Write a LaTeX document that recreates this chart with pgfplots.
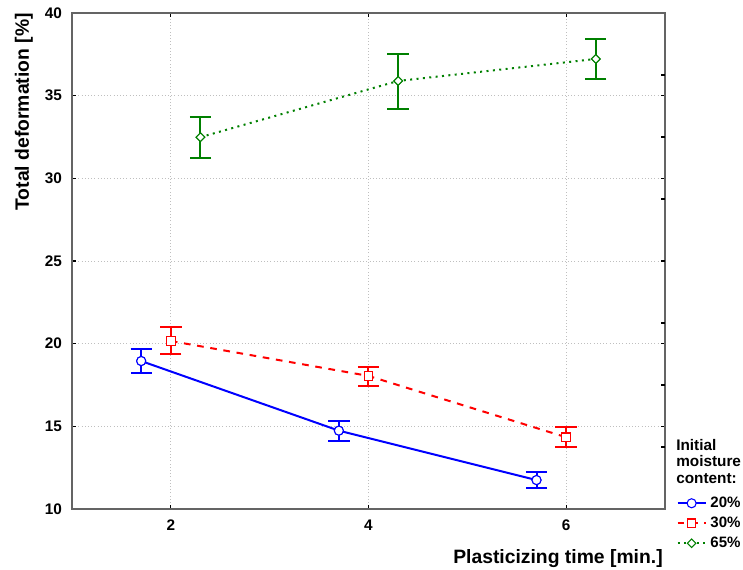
\documentclass[border=0pt]{standalone}
\usepackage{pgfplots}
\pgfplotsset{compat=1.18}
\usepackage{fontspec}
\setmainfont{Liberation Sans}
\definecolor{myblue}{RGB}{0,0,255}
\definecolor{myred}{RGB}{255,0,0}
\definecolor{mygreen}{RGB}{0,128,0}
\definecolor{frame}{RGB}{100,100,100}
\pgfplotstableread{
x y ep em
1.7 18.95 0.71 0.74
3.7 14.74 0.60 0.63
5.7 11.75 0.47 0.50
}\tblA
\pgfplotstableread{
x y ep em
2 20.16 0.87 0.80
4 18.05 0.52 0.59
6 14.34 0.60 0.57
}\tblB
\pgfplotstableread{
x y ep em
2.3 32.49 1.24 1.27
4.3 35.89 1.65 1.71
6.3 37.22 1.21 1.23
}\tblC
\begin{document}
\begin{tikzpicture}
\path[use as bounding box] (-54pt,-45pt) rectangle (503.25pt,381.75pt);
\begin{axis}[
  at={(0,0)}, anchor=south west,
  scale only axis,
  width=444.75pt, height=372pt,
  xmin=1, xmax=7, ymin=10, ymax=40,
  xtick={2,4,6}, ytick={10,15,20,25,30,35,40},
  tick align=inside,
  tick style={black, line width=0.8pt},
  major tick length=3pt,
  axis line style={frame, line width=1.5pt},
  grid=major,
  major grid style={gray!50, dotted, line width=0.6pt},
  /pgf/number format/assume math mode=true,
  ticklabel style={font=\bfseries\fontsize{11.5}{13}\selectfont},
  yticklabel style={xshift=-4pt},
  xticklabel style={yshift=-4.5pt},
  xlabel={\textbf{Plasticizing time [min.]}},
  ylabel={\textbf{Total deformation [\%]}},
  label style={font=\bfseries\fontsize{14.5}{16}\selectfont, inner sep=0pt},
  xlabel style={at={(axis description cs:1,0)}, anchor=base east, yshift=-41pt, xshift=-1.5pt},
  ylabel style={at={(axis description cs:-0.081,1)}, anchor=east},
  legend style={at={(axis description cs:1,0)}, anchor=north west, xshift=8.5pt, yshift=9.5pt,
    draw=none, fill=none,
    font=\bfseries\fontsize{11.3}{13}\selectfont, row sep=5pt, inner sep=0pt,
    nodes={text height=8pt, text depth=2pt, inner sep=0pt},
    /tikz/every odd column/.append style={column sep=2.8pt}},
  legend cell align=left,
  legend image code/.code={\draw[mark repeat=2,mark phase=2,#1] plot coordinates {(0cm,0cm) (0.37cm,0cm) (0.74cm,0cm)};},
  clip=false,
]
\addplot[myblue, line width=1.5pt, mark=*, mark size=3.4pt, mark options={solid, fill=white, draw=myblue, line width=0.8pt},
  error bars/.cd, y dir=both, y explicit,
  error bar style={line width=1.5pt, solid},
  error mark options={rotate=90, mark size=8pt, line width=1.5pt}]
  table[x=x, y=y, y error plus=ep, y error minus=em] {\tblA};
\addlegendentry{20\%}
\addplot[myred, line width=1.5pt, dash pattern=on 5pt off 5pt, mark=square*, mark size=3.2pt, mark options={solid, fill=white, draw=myred, line width=0.8pt},
  error bars/.cd, y dir=both, y explicit,
  error bar style={line width=1.5pt, solid},
  error mark options={rotate=90, mark size=8pt, line width=1.5pt, solid}]
  table[x=x, y=y, y error plus=ep, y error minus=em] {\tblB};
\addlegendentry{30\%}
\addplot[mygreen, line width=1.5pt, dash pattern=on 1.5pt off 3.3pt, mark=square*, mark size=2.3pt, mark options={solid, rotate=45, fill=white, draw=mygreen, line width=0.8pt},
  error bars/.cd, y dir=both, y explicit,
  error bar style={line width=1.5pt, solid},
  error mark options={rotate=90, mark size=8pt, line width=1.5pt, solid}]
  table[x=x, y=y, y error plus=ep, y error minus=em] {\tblC};
\addlegendentry{65\%}
\addplot[forget plot, only marks, myblue, mark=*, mark size=3.4pt, mark options={solid, fill=white, draw=myblue, line width=0.8pt}]
  table[x=x, y=y] {\tblA};
\addplot[forget plot, only marks, myred, mark=square*, mark size=3.2pt, mark options={solid, fill=white, draw=myred, line width=0.8pt}]
  table[x=x, y=y] {\tblB};
\addplot[forget plot, only marks, mygreen, mark=square*, mark size=2.3pt, mark options={solid, rotate=45, fill=white, draw=mygreen, line width=0.8pt}]
  table[x=x, y=y] {\tblC};
\node[anchor=base west, font=\bfseries\fontsize{11.5}{13}\selectfont, inner sep=0pt]
  at ([xshift=8.25pt,yshift=43.7pt]axis description cs:1,0) {Initial};
\node[anchor=base west, font=\bfseries\fontsize{11.5}{13}\selectfont, inner sep=0pt]
  at ([xshift=8.25pt,yshift=31.7pt]axis description cs:1,0) {moisture};
\node[anchor=base west, font=\bfseries\fontsize{11.5}{13}\selectfont, inner sep=0pt]
  at ([xshift=8.25pt,yshift=19.5pt]axis description cs:1,0) {content:};
\end{axis}
\begin{axis}[
  at={(0,0)}, anchor=south west,
  scale only axis,
  width=444.75pt, height=372pt,
  xmin=1, xmax=7, ymin=10, ymax=40,
  axis x line=none, axis y line*=right,
  axis line style={draw=none},
  ytick={13.75,17.5,21.25,25,28.75,32.5,36.25},
  yticklabels={},
  tick align=inside,
  tick style={black, line width=0.8pt},
  major tick length=3pt,
]
\end{axis}
\end{tikzpicture}
\end{document}
